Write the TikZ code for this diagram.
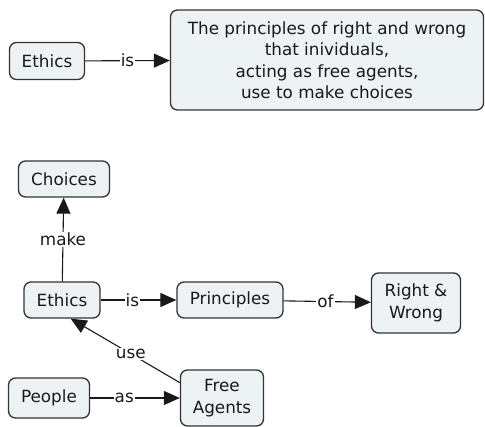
\documentclass[tikz,border=0pt]{standalone}
\usepackage{fontspec}
\setmainfont{DejaVu Sans}
\usetikzlibrary{arrows.meta}
\definecolor{conceptfill}{HTML}{EDF2F5}
\definecolor{conceptline}{HTML}{333333}

\begin{document}
\begin{tikzpicture}[x=1pt,y=-1pt,
	concept/.style={draw=conceptline, line width=1.3pt, fill=conceptfill, rounded corners=7pt,
		align=center, inner xsep=8pt, inner ysep=3pt, minimum height=37pt,
		font=\fontsize{16.8}{21.5}\selectfont, text=black!90},
	link/.style={fill=white, inner sep=1pt, font=\fontsize{16.8}{20}\selectfont, text=black!90},
	every edge/.style={draw, line width=1.1pt, black!90, -{Triangle[length=16pt,width=14pt]}}]
	\useasboundingbox (0,0) rectangle (485,427);
	\node[concept, minimum width=75pt] (ethA) at (47,61) {Ethics};
	\node[concept, minimum width=313pt, minimum height=100pt] (defn) at (327,60)
		{The principles of right and wrong\\that inividuals,\\acting as free agents,\\use to make choices};
	\node[concept, minimum width=91pt, minimum height=36pt] (choices) at (64,179) {Choices};
	\node[concept, minimum width=76pt, minimum height=36pt] (ethB) at (62,300) {Ethics};
	\node[concept, minimum width=106pt, minimum height=36pt] (princ) at (230,300) {Principles};
	\node[concept, minimum width=89pt, minimum height=60pt] (rightwrong) at (416,303) {Right \&\\Wrong};
	\node[concept, minimum width=81pt, minimum height=40pt] (people) at (49,398) {People};
	\node[concept, minimum width=83pt, minimum height=56pt] (agents) at (222,398) {Free\\Agents};
	\path
	(ethA) edge node[link]{is} (defn)
	(ethB) edge node[link, pos=0.42]{is} (princ)
		edge node[link]{make} (choices)
	(princ) edge node[link, pos=0.48]{of} (rightwrong)
	(agents.160) edge node[link, pos=0.45]{use} (ethB.-65)
	(people) edge node[link, pos=0.38]{as} (agents);
\end{tikzpicture}
\end{document}
